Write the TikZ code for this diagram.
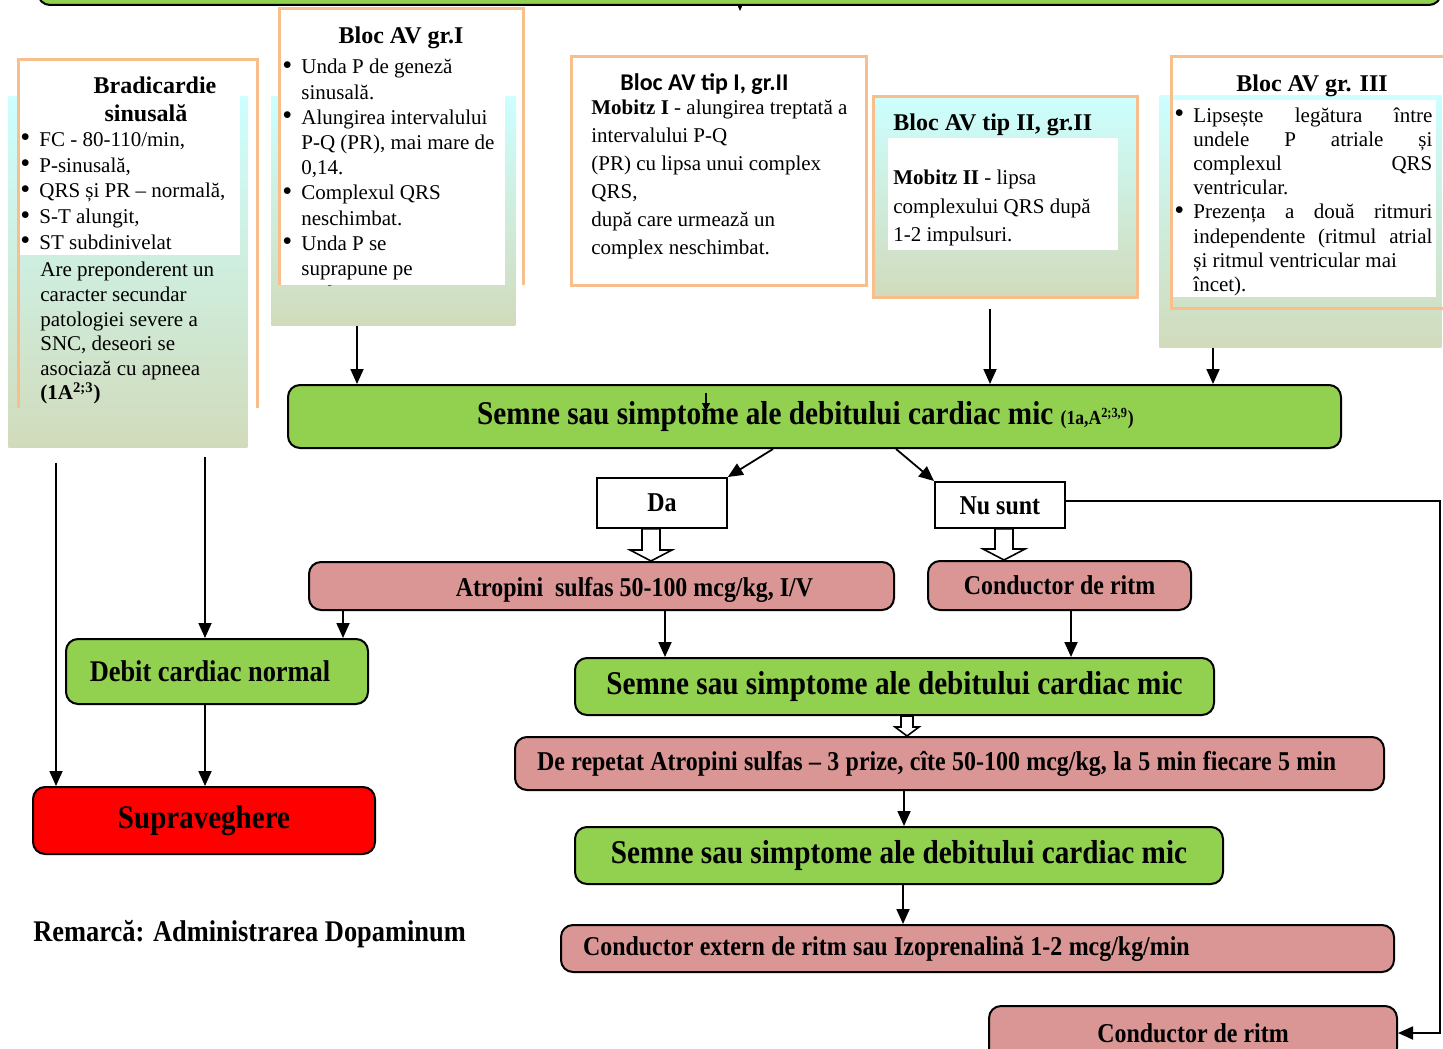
\documentclass[tikz,border=0pt]{standalone}
\usepackage{fontspec}
\setmainfont{Liberation Serif}
\newfontfamily\condfont[FakeStretch=0.88]{Liberation Serif}
\newfontfamily\calibfont{Carlito}
\usetikzlibrary{arrows.meta,calc,backgrounds}

\definecolor{boxgreen}{RGB}{146,208,80}
\definecolor{boxpink}{RGB}{217,150,148}
\definecolor{boxorange}{RGB}{248,190,140}
\definecolor{gradtop}{RGB}{204,255,255}
\definecolor{gradbot}{RGB}{209,219,187}

% bullet and indent of list lines
\newcommand{\bul}{\makebox[7.5pt][l]{\hspace*{-2pt}\raisebox{-0.2pt}{\scalebox{1.35}{\textbullet}}}}
\newcommand{\ind}{\hspace*{7.5pt}}
% narrower word spaces in long box texts
\newcommand{\tightsp}{\spaceskip=0.235em plus 0.05em\relax}
% hollow block arrow: from, to, half shaft, half head, head length
\newcommand{\hollowarrow}[5]{%
  \draw[line width=0.8pt, fill=white]
    ($(#1)+(-#3,0)$) -- ($(#2)+(-#3,-#5)$) -- ($(#2)+(-#4,-#5)$) -- (#2)
    -- ($(#2)+(#4,-#5)$) -- ($(#2)+(#3,-#5)$) -- ($(#1)+(#3,0)$) -- cycle;}

\begin{document}
\begin{tikzpicture}[
x=0.5pt, y=-0.5pt,
font=\fontsize{10.5}{12.6}\selectfont,
flow/.style={->, >={Triangle[length=7.5pt,width=6.5pt]}, line width=0.9pt},
roundbox/.style={draw, line width=1pt, rounded corners=6pt, inner sep=0pt, anchor=north west,
  font=\condfont\bfseries\fontsize{13.6}{16}\selectfont},
greenbox/.style={roundbox, fill=boxgreen},
pinkbox/.style={roundbox, fill=boxpink},
bigtext/.style={font=\condfont\bfseries\fontsize{16.6}{19}\selectfont},
answer/.style={draw, line width=0.9pt, fill=white, inner sep=0pt, anchor=north west,
  font=\condfont\bfseries\fontsize{13.6}{16}\selectfont},
gradbox/.style={anchor=north west, inner sep=0pt, top color=gradtop, bottom color=gradbot},
whitebox/.style={anchor=north west, inner sep=0pt, fill=white},
framebox/.style={draw=boxorange, line width=1.5pt},
title/.style={font=\bfseries\fontsize{12}{14}\selectfont, inner sep=0pt, anchor=north},
txt/.style={inner sep=0pt, anchor=north west, align=left}
]
    \useasboundingbox (0,0) rectangle (1443,1048);
    \clip (0,0) rectangle (1443,1048);

    % Columns for connectors
    \draw
      (357,0) coordinate (xa)
      (990,0) coordinate (xb)
      (1213,0) coordinate (xc)
      (773,0) coordinate (xd)
      (896,0) coordinate (xe)
      (651,0) coordinate (xf)
      (343,0) coordinate (xg)
      (665,0) coordinate (xh)
      (1071,0) coordinate (xi)
      (56,0) coordinate (xj)
      (205,0) coordinate (xk)
      (904,0) coordinate (xl)
      (903,0) coordinate (xm)
      (740,0) coordinate (xn)
      (1004,0) coordinate (xo)
      (907,0) coordinate (xp)
      (1440,0) coordinate (xr)
      (706,393) coordinate (mk);

    % Bradicardie sinusala
    \node[gradbox, minimum width=119.5pt, minimum height=175.5pt] (brad) at (8,96) {};
    \node[whitebox, minimum width=111pt, minimum height=97.5pt] (bradw) at (18,60) {};
    \draw[framebox] (18,408) -- (18,60) -- (257,60) -- (257,408);
    \node[title, align=center] (bradT) at (155,76) {Bradicardie\\sinusală\hspace*{9pt}};
    \node[txt, font=\fontsize{10.5}{12.9}\selectfont] (bradL) at (24,132)
      {\bul FC - 80-110/min,\\\bul P-sinusală,\\\bul QRS și PR – normală,\\\bul S-T alungit,\\\bul ST subdinivelat};
    \node[txt, font=\fontsize{10.5}{12.3}\selectfont] (bradP) at (40,262)
      {Are preponderent un\\caracter secundar\\patologiei severe a\\SNC, deseori se\\asociază cu apneea\\\textbf{(1A\textsuperscript{2;3})}};

    % Bloc AV gr.I
    \node[gradbox, minimum width=122pt, minimum height=114.5pt] (bav1) at (271,96) {};
    \node[whitebox, minimum width=113pt, minimum height=138pt] (bav1w) at (279,9) {};
    \draw[framebox] (279,285) -- (279,9) -- (523,9) -- (523,285);
    \node[title] (bav1T) at (401,26) {Bloc AV gr.I};
    \begin{scope}
      \clip (279,9) rectangle (505,285);
      \node[txt] (bav1L) at (286,59)
        {\bul Unda P de geneză\\\ind sinusală.\\\bul Alungirea intervalului\\\ind P-Q (PR), mai mare de\\\ind 0,14.\\\bul Complexul QRS\\\ind neschimbat.\\\bul Unda P se\\\ind suprapune pe\\\ind unda T.};
    \end{scope}

    % Bloc AV tip I, gr.II
    \node[draw=boxorange, line width=1.5pt, fill=white, anchor=north west, inner sep=0pt,
      minimum width=147.5pt, minimum height=114.5pt] (bav2a) at (570,55) {};
    \node[font=\calibfont\bfseries\fontsize{12}{14}\selectfont, inner sep=0pt, anchor=north west] (bav2aT) at (620,73) {Bloc AV tip I, gr.II};
    \node[txt, font=\fontsize{10.5}{14}\selectfont] (bav2aL) at (591,100)
      {\textbf{Mobitz I} - alungirea treptată a\\intervalului P-Q\\(PR) cu lipsa unui complex\\QRS,\\după care urmează un\\complex neschimbat.};

    % Bloc AV tip II, gr.II
    \node[gradbox, draw=boxorange, line width=1.5pt, minimum width=132pt, minimum height=100.5pt] (bav2b) at (872,95) {};
    \node[whitebox, minimum width=115pt, minimum height=56pt] (bav2bw) at (888,138) {};
    \node[title, anchor=north west] (bav2bT) at (893,113) {Bloc AV tip II, gr.II};
    \node[txt, font=\fontsize{10.5}{14.25}\selectfont] (bav2bL) at (893,170)
      {\textbf{Mobitz II} - lipsa\\complexului QRS după\\1-2 impulsuri.};

    % Bloc AV gr. III
    \node[gradbox, minimum width=141pt, minimum height=126pt] (bav3) at (1159,95) {};
    \node[whitebox, minimum width=132pt, minimum height=98.5pt] (bav3w) at (1172,100) {};
    \draw[framebox] (1171,57) rectangle (1460,308);
    \node[title] (bav3T) at (1312,74) {Bloc AV gr. III};
    \node[txt, font=\fontsize{10.5}{12.1}\selectfont] (bav3L) at (1178,107)
      {\bul\makebox[119.5pt][s]{Lipsește legătura între}\\
       \ind\makebox[119.5pt][s]{undele P atriale și}\\
       \ind\makebox[119.5pt][s]{complexul QRS}\\
       \ind ventricular.\\
       \bul\makebox[119.5pt][s]{Prezența a două ritmuri}\\
       \ind\makebox[119.5pt][s]{independente (ritmul atrial}\\
       \ind și ritmul ventricular mai\\
       \ind încet).};

    % Flow boxes
    \node[greenbox, minimum width=701.5pt, minimum height=22pt] (top) at (37,-40) {};
    \node[greenbox, bigtext, minimum width=526.5pt, minimum height=31.5pt] (semne1) at (287,384)
      {Semne sau simptome ale debitului cardiac mic {\fontsize{10}{11}\selectfont(1a,A\textsuperscript{2;3,9})}\hspace*{9pt}};
    \node[answer, minimum width=65pt, minimum height=25pt] (da) at (596,477) {Da};
    \node[answer, text height=14pt, text depth=4pt, minimum width=65pt, minimum height=23pt] (nu) at (934,481) {Nu sunt};
    \node[pinkbox, text height=14pt, text depth=4pt, minimum width=292.5pt, minimum height=24pt] (atrop) at (308,561)
      {\hspace*{33pt}Atropini\ \ sulfas 50-100 mcg/kg, I/V};
    \node[pinkbox, minimum width=131.5pt, minimum height=24.5pt] (cond1) at (927,560) {Conductor de ritm};
    \node[greenbox, font=\condfont\bfseries\fontsize{15}{17}\selectfont, minimum width=151pt, minimum height=32.5pt] (debit) at (65,638)
      {Debit cardiac normal\hspace*{7pt}};
    \node[roundbox, fill=red, font=\condfont\bfseries\fontsize{16.5}{19}\selectfont, minimum width=171pt, minimum height=33.5pt] (suprav) at (32,786)
      {Supraveghere};
    \node[greenbox, bigtext, minimum width=319.5pt, minimum height=28.5pt] (semne2) at (574,657)
      {Semne sau simptome ale debitului cardiac mic};
    \node[pinkbox, inner xsep=11pt, text width=412.5pt, align=left, minimum height=26.5pt] (repeat) at (514,736)
      {\tightsp De repetat Atropini sulfas – 3 prize, cîte 50-100 mcg/kg, la 5 min fiecare 5 min};
    \node[greenbox, bigtext, minimum width=324pt, minimum height=28.5pt] (semne3) at (574,826)
      {Semne sau simptome ale debitului cardiac mic};
    \node[pinkbox, inner xsep=11pt, text width=394.5pt, align=left, minimum height=23.5pt] (extern) at (560,924)
      {\tightsp Conductor extern de ritm sau Izoprenalină 1-2 mcg/kg/min};
    \node[pinkbox, minimum width=204pt, minimum height=27pt] (cond2) at (988,1005) {Conductor de ritm};
    \node[font=\condfont\bfseries\fontsize{15}{17}\selectfont, anchor=west, inner sep=0pt] (remark) at (33,934)
      {Remarcă: Administrarea Dopaminum};

    % Connectors
    \begin{scope}[on background layer]
      \draw[flow] (top.south -| xn) -- ++(0,5);
    \end{scope}
    \draw[->, >={Triangle[length=4pt,width=4pt]}, line width=0.6pt] (mk) -- ++(0,18);
    \draw[flow] (bav1.south -| xa) -- (semne1.north -| xa);
    \draw[flow, shorten <=5pt] (bav2b.south -| xb) -- (semne1.north -| xb);
    \draw[flow] (bav3.south -| xc) -- (semne1.north -| xc);
    \draw[flow] (semne1.south -| xd) -- (da.north east);
    \draw[flow] (semne1.south -| xe) -- (nu.north west);
    \draw[flow] ($(nu.east)+(0,-4)$) -- ($(nu.east -| xr)+(0,-4)$) -- (xr |- cond2.east) -- (cond2.east);
    \hollowarrow{da.south -| xf}{atrop.north -| xf}{9}{21}{11}
    \hollowarrow{nu.south -| xo}{cond1.north -| xo}{9}{21}{11}
    \hollowarrow{semne2.south -| xp}{repeat.north -| xp}{6}{12}{9}
    \draw[flow] (atrop.south -| xg) -- (debit.north -| xg);
    \draw[flow] (atrop.south -| xh) -- (semne2.north -| xh);
    \draw[flow] (cond1.south -| xi) -- (semne2.north -| xi);
    \draw[flow, shorten <=7.5pt] (brad.south -| xj) -- (suprav.north -| xj);
    \draw[flow, shorten <=4.5pt] (brad.south -| xk) -- (debit.north -| xk);
    \draw[flow] (debit.south -| xk) -- (suprav.north -| xk);
    \draw[flow] (repeat.south -| xl) -- (semne3.north -| xl);
    \draw[flow] (semne3.south -| xm) -- (extern.north -| xm);

\end{tikzpicture}
\end{document}
